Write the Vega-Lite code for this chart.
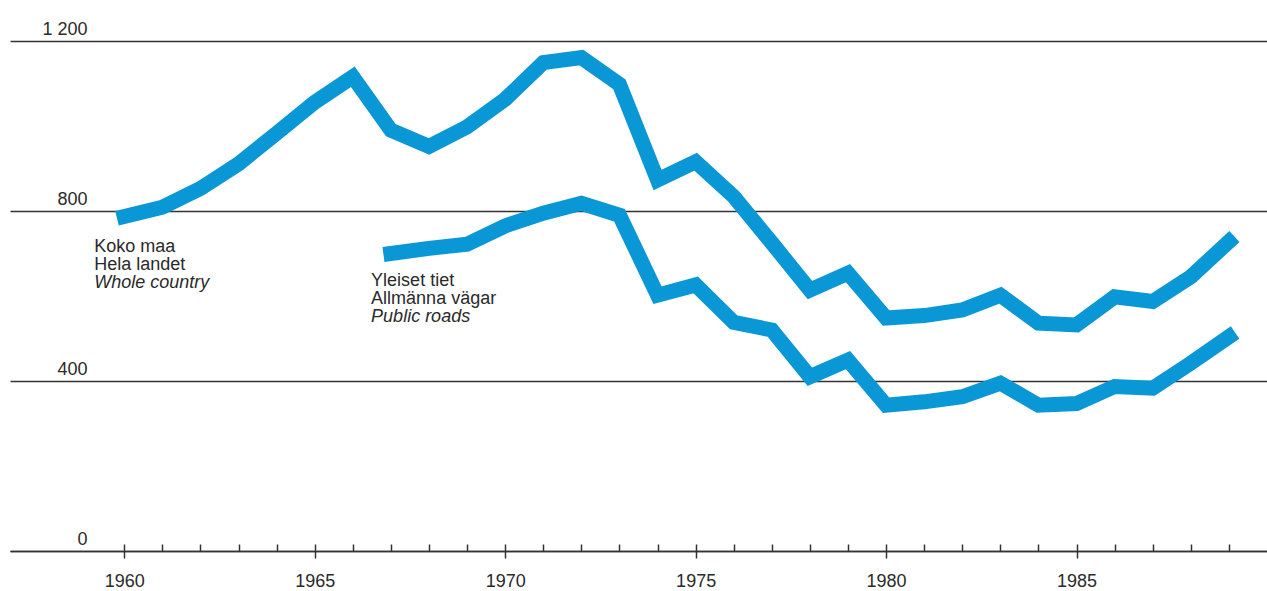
{
  "$schema": "https://vega.github.io/schema/vega-lite/v6.json",
  "width": 1257,
  "height": 510,
  "autosize": {"type": "none"},
  "padding": {"left": 10, "top": 41, "right": 0, "bottom": 40},
  "background": "#ffffff",
  "config": {
    "view": {"stroke": null},
    "font": "Liberation Sans",
    "axis": {"labelFont": "Liberation Sans", "labelFontSize": 18, "labelColor": "#2a2a2a"}
  },
  "datasets": {
    "series": [
      {"series": "Whole country", "year": 1960, "value": 787},
      {"series": "Whole country", "year": 1961, "value": 809},
      {"series": "Whole country", "year": 1962, "value": 853},
      {"series": "Whole country", "year": 1963, "value": 911},
      {"series": "Whole country", "year": 1964, "value": 983},
      {"series": "Whole country", "year": 1965, "value": 1056},
      {"series": "Whole country", "year": 1966, "value": 1116},
      {"series": "Whole country", "year": 1967, "value": 990},
      {"series": "Whole country", "year": 1968, "value": 952},
      {"series": "Whole country", "year": 1969, "value": 998},
      {"series": "Whole country", "year": 1970, "value": 1063},
      {"series": "Whole country", "year": 1971, "value": 1149},
      {"series": "Whole country", "year": 1972, "value": 1161},
      {"series": "Whole country", "year": 1973, "value": 1098},
      {"series": "Whole country", "year": 1974, "value": 873},
      {"series": "Whole country", "year": 1975, "value": 916},
      {"series": "Whole country", "year": 1976, "value": 834},
      {"series": "Whole country", "year": 1977, "value": 725},
      {"series": "Whole country", "year": 1978, "value": 614},
      {"series": "Whole country", "year": 1979, "value": 654},
      {"series": "Whole country", "year": 1980, "value": 548},
      {"series": "Whole country", "year": 1981, "value": 554},
      {"series": "Whole country", "year": 1982, "value": 567},
      {"series": "Whole country", "year": 1983, "value": 602},
      {"series": "Whole country", "year": 1984, "value": 536},
      {"series": "Whole country", "year": 1985, "value": 532},
      {"series": "Whole country", "year": 1986, "value": 598},
      {"series": "Whole country", "year": 1987, "value": 587},
      {"series": "Whole country", "year": 1988, "value": 645},
      {"series": "Whole country", "year": 1989, "value": 728},
      {"series": "Public roads", "year": 1967, "value": 700},
      {"series": "Public roads", "year": 1968, "value": 712},
      {"series": "Public roads", "year": 1969, "value": 722},
      {"series": "Public roads", "year": 1970, "value": 765},
      {"series": "Public roads", "year": 1971, "value": 795},
      {"series": "Public roads", "year": 1972, "value": 818},
      {"series": "Public roads", "year": 1973, "value": 790},
      {"series": "Public roads", "year": 1974, "value": 602},
      {"series": "Public roads", "year": 1975, "value": 626},
      {"series": "Public roads", "year": 1976, "value": 538},
      {"series": "Public roads", "year": 1977, "value": 520},
      {"series": "Public roads", "year": 1978, "value": 410},
      {"series": "Public roads", "year": 1979, "value": 449},
      {"series": "Public roads", "year": 1980, "value": 343},
      {"series": "Public roads", "year": 1981, "value": 351},
      {"series": "Public roads", "year": 1982, "value": 363},
      {"series": "Public roads", "year": 1983, "value": 395},
      {"series": "Public roads", "year": 1984, "value": 343},
      {"series": "Public roads", "year": 1985, "value": 347},
      {"series": "Public roads", "year": 1986, "value": 387},
      {"series": "Public roads", "year": 1987, "value": 383},
      {"series": "Public roads", "year": 1988, "value": 442},
      {"series": "Public roads", "year": 1989, "value": 504}
    ],
    "labels": [
      {"year": 1959.21, "value": 703.5, "text": "Koko maa\nHela landet", "style": "normal"},
      {"year": 1959.21, "value": 618.8, "text": "Whole country", "style": "italic"},
      {"year": 1966.48, "value": 623.5, "text": "Yleiset tiet\nAllmänna vägar", "style": "normal"},
      {"year": 1966.48, "value": 538.8, "text": "Public roads", "style": "italic"}
    ]
  },
  "resolve": {"axis": {"x": "independent"}},
  "layer": [
    {
      "data": {"name": "series"},
      "mark": {"type": "line", "color": "#0a97d5", "strokeWidth": 15, "strokeCap": "square", "strokeJoin": "miter"},
      "encoding": {
        "x": {
          "field": "year", "type": "quantitative",
          "scale": {"domain": [1957, 1990], "nice": false, "zero": false},
          "axis": {
            "orient": "bottom", "title": null, "labels": false, "grid": false,
            "values": [1960,1961,1962,1963,1964,1965,1966,1967,1968,1969,1970,1971,1972,1973,1974,1975,1976,1977,1978,1979,1980,1981,1982,1983,1984,1985,1986,1987,1988,1989],
            "tickSize": -7, "tickColor": "#333333", "tickWidth": 1.5,
            "domain": true, "domainColor": "#333333", "domainWidth": 1.5
          }
        },
        "y": {
          "field": "value", "type": "quantitative",
          "scale": {"domain": [0, 1200], "nice": false},
          "axis": {
            "title": null, "values": [0, 400, 800, 1200],
            "grid": true, "gridColor": "#333333", "gridWidth": 1.5, "gridOpacity": 1,
            "domain": false, "ticks": false, "tickSize": 0,
            "labelPadding": -77, "labelAlign": "right", "labelBaseline": "alphabetic", "labelOffset": -7,
            "labelExpr": "replace(datum.label, ',', ' ')"
          }
        },
        "detail": {"field": "series", "type": "nominal"}
      }
    },
    {
      "data": {"name": "labels"},
      "transform": [{"filter": "datum.style == 'normal'"}],
      "mark": {"type": "text", "align": "left", "baseline": "alphabetic", "fontSize": 18, "lineHeight": 18, "lineBreak": "\n", "color": "#2a2a2a", "font": "Liberation Sans"},
      "encoding": {
        "x": {
          "field": "year", "type": "quantitative",
          "scale": {"domain": [1957, 1990], "nice": false, "zero": false},
          "axis": {
            "orient": "bottom", "title": null, "grid": false,
            "values": [1960, 1965, 1970, 1975, 1980, 1985],
            "format": "d",
            "tickSize": 7, "tickColor": "#333333", "tickWidth": 1.5,
            "domain": false,
            "labelPadding": 14, "labelBaseline": "top", "labelFontSize": 18
          }
        },
        "y": {"field": "value", "type": "quantitative", "axis": {"title": null}},
        "text": {"field": "text"}
      }
    },
    {
      "data": {"name": "labels"},
      "transform": [{"filter": "datum.style == 'italic'"}],
      "mark": {"type": "text", "align": "left", "baseline": "alphabetic", "fontSize": 18, "fontStyle": "italic", "color": "#2a2a2a", "font": "Liberation Sans"},
      "encoding": {
        "x": {"field": "year", "type": "quantitative", "axis": null},
        "y": {"field": "value", "type": "quantitative", "axis": {"title": null}},
        "text": {"field": "text"}
      }
    }
  ]
}
